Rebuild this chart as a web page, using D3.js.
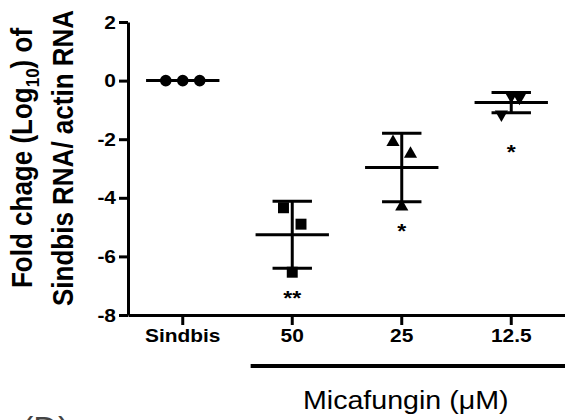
<!DOCTYPE html>
<html>
<head>
<meta charset="utf-8">
<script src="https://cdn.jsdelivr.net/npm/d3@7"></script>
<style>
  body { margin: 0; background: #fff; }
  svg { display: block; font-family: "Liberation Sans", Arial, sans-serif; }
</style>
</head>
<body>
<div id="chart"></div>
<script>
// data
const groups = ["Sindbis", "50", "25", "12.5"];
const values = [
  [0, 0, 0],
  [-4.34, -4.9, -6.54],
  [-2.1, -2.5, -4.3],
  [-0.52, -0.58, -1.15]
];
// horizontal scatter of replicate points, as fraction of category step
const jitter = [
  [-0.155, 0, 0.155],
  [-0.08, 0.08, 0],
  [-0.08, 0.08, 0],
  [0, 0.075, -0.09]
];
const symbols = [d3.symbolCircle, d3.symbolSquare, d3.symbolTriangle, d3.symbolTriangle];
const flipped = [false, false, false, true];
const stars = ["", "**", "*", "*"];
const starAt = [null, -7.25, -4.95, -2.25];
const yTicks = [2, 0, -2, -4, -6, -8];

const w = 565, h = 420;
const stretch = 1.1; // text in the figure is slightly wide

const svg = d3.select("#chart").append("svg").attr("width", w).attr("height", h);

// scales
const x = d3.scaleBand().domain(groups).range([128, 566]).padding(0);
const y = d3.scaleLinear().domain([-8, 2]).range([315, 22]);
const step = x.step();
const cx = g => x(g) + x.bandwidth() / 2;

// axes
const yAxis = d3.axisLeft(y).tickValues(yTicks).tickSize(9).tickSizeOuter(0);
const xAxis = d3.axisBottom(x).tickSize(10).tickSizeOuter(0);

const gy = svg.append("g").attr("transform", "translate(128,0)").call(yAxis);
const gx = svg.append("g").attr("transform", "translate(0,315)").call(xAxis);

[gy, gx].forEach(g => {
  g.select(".domain").attr("stroke", "#000").attr("stroke-width", 3);
  g.selectAll(".tick line").attr("stroke", "#000").attr("stroke-width", 3);
  g.selectAll(".tick text")
    .attr("fill", "#000")
    .style("font-weight", "bold")
    .style("font-family", "'Liberation Sans', Arial, sans-serif");
});
gy.selectAll(".tick text").style("font-size", "19px")
  .attr("x", 0)
  .attr("transform", `translate(-12,0) scale(${stretch},1)`)
  .text(d => d < 0 ? "-" + Math.abs(d) : d);
gx.selectAll(".tick text").style("font-size", "19px").attr("y", 14)
  .attr("x", 0)
  .attr("transform", `scale(${stretch},1)`);

// y label
const yl = svg.append("g").attr("transform", `translate(0,158) scale(${stretch},1)`);
const l1 = yl.append("text").attr("transform", "translate(29,0) rotate(-90)")
  .attr("text-anchor", "middle").style("font-weight", "bold").style("font-size", "26px");
l1.append("tspan").text("Fold chage (Log");
l1.append("tspan").text("10").style("font-size", "17px").attr("dy", 6);
l1.append("tspan").text(") of").attr("dy", -6);
yl.append("text").attr("transform", "translate(66,0) rotate(-90)")
  .attr("text-anchor", "middle").style("font-weight", "bold").style("font-size", "26px")
  .text("Sindbis RNA/ actin RNA");

// summary stats: mean and SD for each group
const stats = values.map(v => ({ mean: d3.mean(v), sd: d3.deviation(v) }));

const groupsG = svg.append("g");
groups.forEach((g, i) => {
  const c = cx(g);
  const s = stats[i];
  const gg = groupsG.append("g");
  const line = (x1, x2, y1, y2) => gg.append("line")
    .attr("x1", x1).attr("x2", x2).attr("y1", y1).attr("y2", y2)
    .attr("stroke", "#000").attr("stroke-width", 3);
  if (s.sd > 0) {
    line(c, c, y(s.mean + s.sd), y(s.mean - s.sd));
    line(c - step * 0.18, c + step * 0.18, y(s.mean + s.sd), y(s.mean + s.sd));
    line(c - step * 0.18, c + step * 0.18, y(s.mean - s.sd), y(s.mean - s.sd));
  }
  line(c - step * 0.335, c + step * 0.335, y(s.mean), y(s.mean));

  const size = symbols[i] === d3.symbolCircle ? 105 : symbols[i] === d3.symbolSquare ? 120 : 75;
  gg.selectAll("path.pt").data(values[i]).enter().append("path")
    .attr("class", "pt")
    .attr("d", d3.symbol().type(symbols[i]).size(size))
    .attr("transform", (d, j) => `translate(${c + jitter[i][j] * step},${y(d)})` + (flipped[i] ? " rotate(180)" : ""))
    .attr("fill", "#000");

  if (stars[i]) {
    gg.append("text")
      .attr("transform", `translate(${c},${y(starAt[i]) + 12}) scale(${stretch},1)`)
      .attr("text-anchor", "middle")
      .style("font-weight", "bold").style("font-size", "21px")
      .text(stars[i]);
  }
});

// group bracket and label
svg.append("line")
  .attr("x1", cx("50") - step * 0.38).attr("x2", 566)
  .attr("y1", 366).attr("y2", 366)
  .attr("stroke", "#000").attr("stroke-width", 4);
svg.append("text")
  .attr("transform", `translate(${cx("25") + 4},409) scale(${stretch},1)`)
  .attr("text-anchor", "middle").style("font-size", "26px")
  .text("Micafungin (\u03bcM)");

// panel letter, cut by the bottom edge
svg.append("text")
  .attr("x", 22).attr("y", 440)
  .style("font-size", "34px").attr("fill", "#444")
  .text("(D)");
</script>
</body>
</html>
